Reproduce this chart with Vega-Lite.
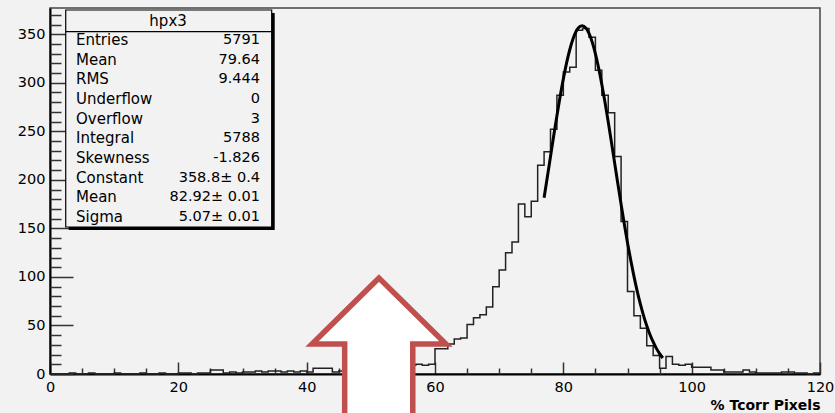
{
  "$schema": "https://vega.github.io/schema/vega-lite/v6.json",
  "width": 770,
  "height": 366,
  "autosize": {"type": "none"},
  "padding": {"left": 50, "top": 8, "right": 15, "bottom": 39},
  "background": "#f2f2f2",
  "config": {
    "view": {"stroke": "#444", "strokeWidth": 1.5, "fill": "#f2f2f2"},
    "font": "DejaVu Sans",
    "axis": {"labelFont": "DejaVu Sans", "titleFont": "DejaVu Sans", "grid": false, "labelColor": "#000", "titleColor": "#000", "labelFlush": false, "labelOverlap": false}
  },
  "datasets": {
    "hist": [
      {"x": 0, "n": 0}, {"x": 1, "n": 0}, {"x": 2, "n": 0}, {"x": 3, "n": 1}, {"x": 4, "n": 0},
      {"x": 5, "n": 0}, {"x": 6, "n": 1}, {"x": 7, "n": 0}, {"x": 8, "n": 0}, {"x": 9, "n": 0},
      {"x": 10, "n": 1}, {"x": 11, "n": 0}, {"x": 12, "n": 0}, {"x": 13, "n": 0}, {"x": 14, "n": 1},
      {"x": 15, "n": 0}, {"x": 16, "n": 0}, {"x": 17, "n": 1}, {"x": 18, "n": 0}, {"x": 19, "n": 0},
      {"x": 20, "n": 1}, {"x": 21, "n": 1}, {"x": 22, "n": 0}, {"x": 23, "n": 1}, {"x": 24, "n": 1},
      {"x": 25, "n": 4}, {"x": 26, "n": 4}, {"x": 27, "n": 1}, {"x": 28, "n": 2}, {"x": 29, "n": 1},
      {"x": 30, "n": 2}, {"x": 31, "n": 2}, {"x": 32, "n": 3}, {"x": 33, "n": 2}, {"x": 34, "n": 3},
      {"x": 35, "n": 3}, {"x": 36, "n": 2}, {"x": 37, "n": 3}, {"x": 38, "n": 2}, {"x": 39, "n": 3},
      {"x": 40, "n": 2}, {"x": 41, "n": 6}, {"x": 42, "n": 6}, {"x": 43, "n": 6}, {"x": 44, "n": 2},
      {"x": 45, "n": 3}, {"x": 46, "n": 3}, {"x": 47, "n": 3}, {"x": 48, "n": 4}, {"x": 49, "n": 4},
      {"x": 50, "n": 5}, {"x": 51, "n": 5}, {"x": 52, "n": 6}, {"x": 53, "n": 6}, {"x": 54, "n": 7},
      {"x": 55, "n": 8}, {"x": 56, "n": 9}, {"x": 57, "n": 10}, {"x": 58, "n": 9}, {"x": 59, "n": 10},
      {"x": 60, "n": 26}, {"x": 61, "n": 26}, {"x": 62, "n": 31}, {"x": 63, "n": 36}, {"x": 64, "n": 37},
      {"x": 65, "n": 51}, {"x": 66, "n": 58}, {"x": 67, "n": 61}, {"x": 68, "n": 69}, {"x": 69, "n": 90},
      {"x": 70, "n": 107}, {"x": 71, "n": 125}, {"x": 72, "n": 136}, {"x": 73, "n": 175}, {"x": 74, "n": 162},
      {"x": 75, "n": 178}, {"x": 76, "n": 215}, {"x": 77, "n": 229}, {"x": 78, "n": 252}, {"x": 79, "n": 287},
      {"x": 80, "n": 311}, {"x": 81, "n": 316}, {"x": 82, "n": 354}, {"x": 83, "n": 356}, {"x": 84, "n": 347},
      {"x": 85, "n": 313}, {"x": 86, "n": 287}, {"x": 87, "n": 269}, {"x": 88, "n": 224}, {"x": 89, "n": 157},
      {"x": 90, "n": 85}, {"x": 91, "n": 60}, {"x": 92, "n": 47}, {"x": 93, "n": 29}, {"x": 94, "n": 19},
      {"x": 95, "n": 6}, {"x": 96, "n": 18}, {"x": 97, "n": 10}, {"x": 98, "n": 9}, {"x": 99, "n": 10},
      {"x": 100, "n": 7}, {"x": 101, "n": 7}, {"x": 102, "n": 7}, {"x": 103, "n": 4}, {"x": 104, "n": 4},
      {"x": 105, "n": 2}, {"x": 106, "n": 2}, {"x": 107, "n": 2}, {"x": 108, "n": 4}, {"x": 109, "n": 2},
      {"x": 110, "n": 1}, {"x": 111, "n": 1}, {"x": 112, "n": 1}, {"x": 113, "n": 1}, {"x": 114, "n": 2},
      {"x": 115, "n": 2}, {"x": 116, "n": 1}, {"x": 117, "n": 1}, {"x": 118, "n": 0}, {"x": 119, "n": 1},
      {"x": 120, "n": 1}
    ],
    "fit": [
      {"x": 77, "f": 181.5}, {"x": 77.5, "f": 202.6}, {"x": 78, "f": 224.0}, {"x": 78.5, "f": 245.4},
      {"x": 79, "f": 266.1}, {"x": 79.5, "f": 285.8}, {"x": 80, "f": 304.0}, {"x": 80.5, "f": 320.2},
      {"x": 81, "f": 334.0}, {"x": 81.5, "f": 345.0}, {"x": 82, "f": 353.0}, {"x": 82.5, "f": 357.6},
      {"x": 82.92, "f": 358.8}, {"x": 83.5, "f": 356.5}, {"x": 84, "f": 350.8}, {"x": 84.5, "f": 341.8},
      {"x": 85, "f": 329.8}, {"x": 85.5, "f": 315.2}, {"x": 86, "f": 298.3}, {"x": 86.5, "f": 279.7},
      {"x": 87, "f": 259.6}, {"x": 87.5, "f": 238.6}, {"x": 88, "f": 217.2}, {"x": 88.5, "f": 195.8},
      {"x": 89, "f": 174.8}, {"x": 89.5, "f": 154.6}, {"x": 90, "f": 135.3}, {"x": 90.5, "f": 117.4},
      {"x": 91, "f": 100.8}, {"x": 91.5, "f": 85.7}, {"x": 92, "f": 72.2}, {"x": 92.5, "f": 60.2},
      {"x": 93, "f": 49.7}, {"x": 93.5, "f": 40.7}, {"x": 94, "f": 33.0}, {"x": 94.5, "f": 26.4},
      {"x": 95, "f": 21.0}, {"x": 95.5, "f": 16.5}
    ],
    "stats": [
      {"row": 1, "label": "Entries", "value": "5791"},
      {"row": 2, "label": "Mean", "value": "79.64"},
      {"row": 3, "label": "RMS", "value": "9.444"},
      {"row": 4, "label": "Underflow", "value": "0"},
      {"row": 5, "label": "Overflow", "value": "3"},
      {"row": 6, "label": "Integral", "value": "5788"},
      {"row": 7, "label": "Skewness", "value": "-1.826"},
      {"row": 8, "label": "Constant", "value": "358.8± 0.4"},
      {"row": 9, "label": "Mean", "value": "82.92± 0.01"},
      {"row": 10, "label": "Sigma", "value": "5.07± 0.01"}
    ]
  },
  "layer": [
    {
      "layer": [
        {
          "data": {"name": "hist"},
          "mark": {"type": "line", "interpolate": "step-after", "color": "#222", "strokeWidth": 1.5},
          "encoding": {
            "x": {"field": "x", "type": "quantitative", "scale": {"domain": [0, 120], "nice": false, "zero": false},
              "axis": {"orient": "bottom", "values": [0, 20, 40, 60, 80, 100, 120], "tickSize": -12, "tickColor": "#333", "tickWidth": 1.5,
                "domainColor": "#000", "domainWidth": 2, "labelFontSize": 14.5, "labelPadding": 18,
                "title": "% Tcorr Pixels", "titleAnchor": "end", "titleFontWeight": "bold", "titleFontSize": 14, "titlePadding": 5}},
            "y": {"field": "n", "type": "quantitative", "scale": {"domain": [0, 377], "nice": false},
              "axis": {"orient": "left", "values": [0, 50, 100, 150, 200, 250, 300, 350], "tickSize": -23, "tickColor": "#333", "tickWidth": 1.5,
                "domainColor": "#000", "domainWidth": 2, "labelFontSize": 14.5, "labelPadding": 28, "title": null}}
          }
        },
        {
          "data": {"name": "fit"},
          "mark": {"type": "line", "interpolate": "monotone", "color": "#000", "strokeWidth": 3},
          "encoding": {
            "x": {"field": "x", "type": "quantitative", "scale": {"domain": [0, 120], "nice": false, "zero": false},
              "axis": {"orient": "bottom", "values": [5, 10, 15, 25, 30, 35, 45, 50, 55, 65, 70, 75, 85, 90, 95, 105, 110, 115], "tickSize": -6, "tickColor": "#333", "tickWidth": 1.5,
                "domain": false, "labels": false, "title": null}},
            "y": {"field": "f", "type": "quantitative", "scale": {"domain": [0, 377], "nice": false},
              "axis": {"orient": "left", "values": [10, 20, 30, 40, 60, 70, 80, 90, 110, 120, 130, 140, 160, 170, 180, 190, 210, 220, 230, 240, 260, 270, 280, 290, 310, 320, 330, 340, 360, 370], "tickSize": -11, "tickColor": "#333", "tickWidth": 1.5,
                "domain": false, "labels": false, "title": null}}
          }
        }
      ],
      "resolve": {"axis": {"x": "independent", "y": "independent"}}
    },
    {
      "layer": [
        {
          "data": {"values": [{}]},
          "mark": {"type": "rect", "color": "#000"},
          "encoding": {
            "x": {"datum": 2.92, "type": "quantitative", "scale": {"domain": [0, 120], "nice": false, "zero": false}, "axis": null},
            "x2": {"datum": 35.02},
            "y": {"datum": -0.372, "type": "quantitative", "scale": {"domain": [-0.627, 17.98], "reverse": true, "nice": false, "zero": false}, "axis": null},
            "y2": {"datum": 10.66}
          }
        },
        {
          "data": {"values": [{}]},
          "mark": {"type": "rect", "fill": "#f2f2f2", "stroke": "#000", "strokeWidth": 1.2},
          "encoding": {
            "x": {"datum": 2.45, "type": "quantitative", "scale": {"domain": [0, 120], "nice": false, "zero": false}, "axis": null},
            "x2": {"datum": 34.55},
            "y": {"datum": -0.525, "type": "quantitative", "scale": {"domain": [-0.627, 17.98], "reverse": true, "nice": false, "zero": false}, "axis": null},
            "y2": {"datum": 10.507}
          }
        },
        {
          "data": {"values": [{}]},
          "mark": {"type": "rule", "color": "#000", "strokeWidth": 1.2},
          "encoding": {
            "x": {"datum": 2.45, "type": "quantitative", "scale": {"domain": [0, 120], "nice": false, "zero": false}, "axis": null},
            "x2": {"datum": 34.55},
            "y": {"datum": 0.578, "type": "quantitative", "scale": {"domain": [-0.627, 17.98], "reverse": true, "nice": false, "zero": false}, "axis": null}
          }
        },
        {
          "data": {"values": [{}]},
          "mark": {"type": "text", "text": "hpx3", "align": "center", "baseline": "middle", "fontSize": 15, "font": "DejaVu Sans", "color": "#000"},
          "encoding": {
            "x": {"datum": 18.4, "type": "quantitative", "scale": {"domain": [0, 120], "nice": false, "zero": false}, "axis": null},
            "y": {"datum": 0.05, "type": "quantitative", "scale": {"domain": [-0.627, 17.98], "reverse": true, "nice": false, "zero": false}, "axis": null}
          }
        },
        {
          "data": {"name": "stats"},
          "mark": {"type": "text", "align": "left", "baseline": "middle", "fontSize": 15, "font": "DejaVu Sans", "color": "#000"},
          "encoding": {
            "x": {"datum": 4.05, "type": "quantitative", "scale": {"domain": [0, 120], "nice": false, "zero": false}, "axis": null},
            "y": {"field": "row", "type": "quantitative", "scale": {"domain": [-0.627, 17.98], "reverse": true, "nice": false, "zero": false}, "axis": null},
            "text": {"field": "label"}
          }
        },
        {
          "data": {"name": "stats"},
          "mark": {"type": "text", "align": "right", "baseline": "middle", "fontSize": 14.5, "font": "DejaVu Sans", "color": "#000"},
          "encoding": {
            "x": {"datum": 32.73, "type": "quantitative", "scale": {"domain": [0, 120], "nice": false, "zero": false}, "axis": null},
            "y": {"field": "row", "type": "quantitative", "scale": {"domain": [-0.627, 17.98], "reverse": true, "nice": false, "zero": false}, "axis": null},
            "text": {"field": "value"}
          }
        }
      ]
    },
    {
      "data": {"values": [{}]},
      "mark": {"type": "point", "shape": "M0,-0.72L-0.67,-0.06L-0.343,-0.06L-0.343,0.8L0.338,0.8L0.338,-0.06L0.67,-0.06Z", "size": 40000, "filled": false, "fill": "#ffffff", "fillOpacity": 1, "stroke": "#c0504d", "strokeWidth": 5.5, "opacity": 1, "strokeJoin": "miter"},
      "encoding": {
        "x": {"datum": 51.27, "type": "quantitative", "scale": {"domain": [0, 120], "nice": false, "zero": false}, "axis": null},
        "y": {"datum": 24.7, "type": "quantitative", "scale": {"domain": [0, 377], "nice": false}, "axis": null}
      }
    }
  ],
  "resolve": {"scale": {"y": "independent"}, "axis": {"x": "independent", "y": "independent"}}
}
